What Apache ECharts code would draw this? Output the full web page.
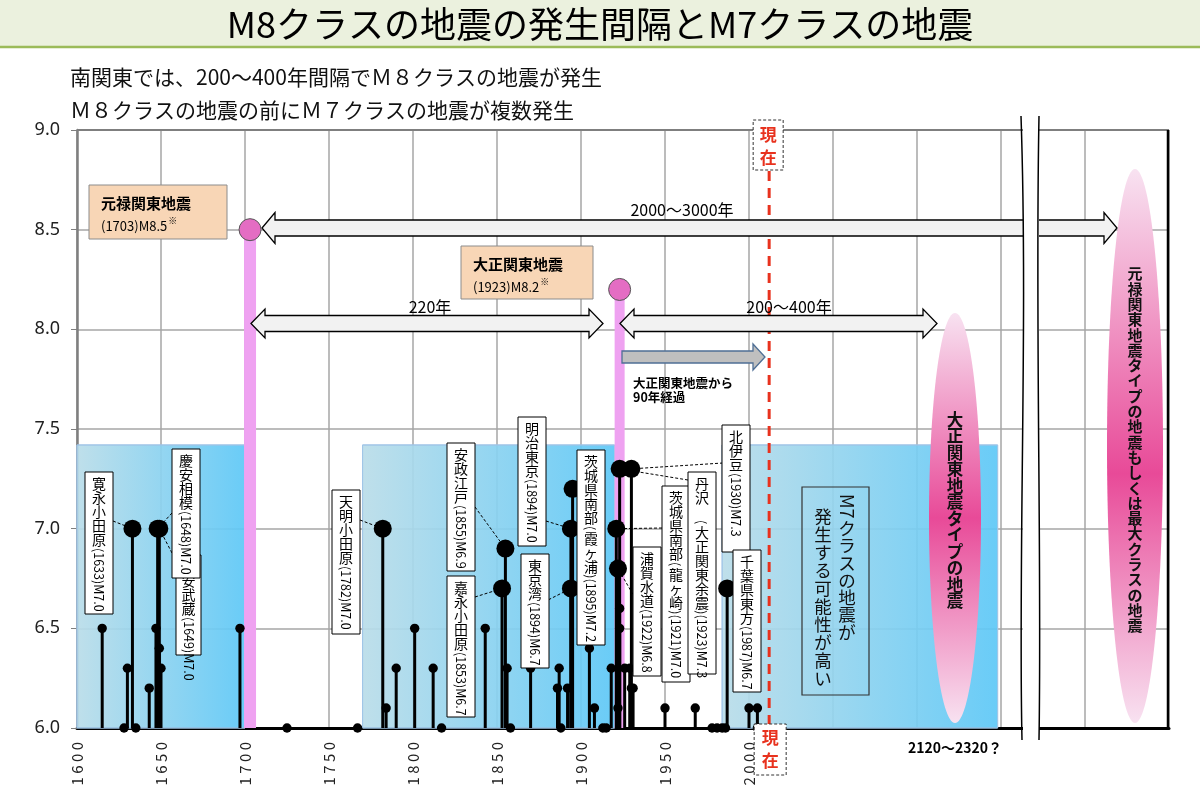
<!DOCTYPE html>
<html lang="ja">
<head>
<meta charset="utf-8">
<title>M8クラスの地震の発生間隔とM7クラスの地震</title>
<script src="https://cdn.jsdelivr.net/npm/echarts@6.0.0/dist/echarts.min.js"></script>
<style>
  html, body { margin: 0; padding: 0; background: #fff; }
  #main { width: 1200px; height: 789px; }
</style>
</head>
<body>
<div id="main"></div>
<script>
  var FONT = '"Noto Sans CJK JP", "Noto Sans", sans-serif';

  // 軸
  var yearMin = 1600, yearMax = 2250, yearStep = 50, yearLabelMax = 2000;
  var magMin = 6.0, magMax = 9.0, magStep = 0.5;

  // M6〜M7クラスの地震（年・マグニチュード）
  var quakeYears = [1615, 1628, 1630, 1633, 1635, 1643, 1647, 1648, 1649, 1649, 1650, 1697,
    1725, 1767, 1782, 1784, 1790, 1801, 1812, 1817,
    1843, 1853, 1855, 1856, 1858, 1870, 1886, 1887, 1888, 1892, 1894, 1894, 1895, 1905, 1908, 1913, 1915, 1918,
    1921, 1922, 1922, 1923, 1923, 1923, 1926, 1929, 1930, 1931, 1930,
    1950, 1968, 1978, 1981, 1984, 1986, 1987, 2000, 2005, 2005];
  var quakeMags = [6.5, 6.0, 6.3, 7.0, 6.0, 6.2, 6.5, 7.0, 7.0, 6.4, 6.3, 6.5,
    6.0, 6.0, 7.0, 6.1, 6.3, 6.5, 6.3, 6.0,
    6.5, 6.7, 6.9, 6.3, 6.0, 6.3, 6.2, 6.3, 6.0, 6.2, 7.0, 6.7, 7.2, 6.4, 6.1, 6.0, 6.0, 6.3,
    7.0, 6.8, 6.1, 7.3, 6.6, 6.5, 6.3, 6.3, 6.2, 6.2, 7.3,
    6.1, 6.1, 6.0, 6.0, 6.0, 6.0, 6.7, 6.1, 6.1, 6.0];

  // M8クラスの地震
  var m8Years = [1703, 1923];
  var m8Mags = [8.5, 8.2];
  var m8Names = ['元禄関東地震', '大正関東地震'];

  // 名前付きの地震
  var labelNames = ['寛永小田原', '慶安武蔵', '慶安相模', '天明小田原', '安政江戸', '嘉永小田原', '明治東京', '東京湾',
    '茨城県南部(霞ヶ浦)', '浦賀水道', '茨城県南部(龍ヶ崎)', '丹沢　(大正関東余震)', '北伊豆', '千葉県東方'];
  var labelYears = [1633, 1649, 1648, 1782, 1855, 1853, 1894, 1894, 1895, 1922, 1921, 1923, 1930, 1987];
  var labelMags = [7.0, 7.0, 7.0, 7.0, 6.9, 6.7, 7.0, 6.7, 7.2, 6.8, 7.0, 7.3, 7.3, 6.7];

  // M7クラスが続く期間（水色）
  var periodStart = [1600, 1770, 1984];
  var periodEnd = [1700, 1920, 2148];
  var periodTopMag = 7.42;

  var nowYear = 2012;

  // ラベル枠の配置 [x, y, w, h]（px）と引き出し線の始点
  var labelBoxes = [
    [85, 472, 28, 142], [176, 555, 25, 100], [172, 449, 28, 129], [332, 490, 28, 144],
    [447, 443, 28, 128], [447, 576, 28, 141], [518, 417, 28, 129], [521, 554, 28, 114],
    [577, 450, 28, 195], [633, 547, 28, 129], [662, 486, 28, 196], [688, 472, 28, 202],
    [722, 425, 28, 127], [733, 550, 28, 142]
  ];
  var leaderFrom = [[113, 521], [172, 553], [172, 513], [360, 520], [475, 507], [475, 597], [546, 521],
    [544, 602], [577, 481], [638, 603], [662, 528], [688, 480], [723, 463], null];

  var chart = echarts.init(document.getElementById('main'));

  chart.setOption({
    animation: false,
    grid: { left: 77, right: 31, top: 130, bottom: 61, outerBoundsMode: 'none' },
    xAxis: {
      type: 'value', min: yearMin, max: yearMax, interval: yearStep,
      axisLine: { lineStyle: { color: '#000', width: 3 } },
      axisTick: { show: false },
      axisLabel: {
        rotate: 90, margin: 14, fontSize: 15, color: '#222', fontFamily: FONT,
        formatter: function (v) { return v <= yearLabelMax ? String(v).split('').join(' ') : ''; }
      },
      splitLine: { lineStyle: { color: '#a6a6a6', width: 1.5 } }
    },
    yAxis: {
      type: 'value', min: magMin, max: magMax, interval: magStep,
      axisLine: { show: true, lineStyle: { color: '#7f7f7f', width: 2.5 } },
      axisTick: { show: true, length: 6, lineStyle: { color: '#7f7f7f' } },
      axisLabel: { margin: 17, fontSize: 18, color: '#222', fontFamily: 'Noto Sans', formatter: function (v) { return v.toFixed(1); } },
      splitLine: { lineStyle: { color: '#a6a6a6', width: 1.5 } }
    },
    series: [
      {
        name: 'period', type: 'custom', z: 1, silent: true,
        data: periodStart.map(function (s, i) { return [s, periodEnd[i], periodTopMag]; }),
        renderItem: function (params, api) {
          var p0 = api.coord([api.value(0), api.value(2)]);
          var p1 = api.coord([api.value(1), magMin]);
          return {
            type: 'rect',
            shape: { x: p0[0], y: p0[1], width: p1[0] - p0[0], height: p1[1] - p0[1] },
            style: {
              fill: new echarts.graphic.LinearGradient(0, 0, 1, 0, [
                { offset: 0, color: '#badde9' }, { offset: 1, color: '#5dc8f7' }
              ]),
              stroke: '#9fc4e6', lineWidth: 1, opacity: 0.92
            }
          };
        }
      },
      {
        name: 'M8', type: 'custom', z: 3, silent: true,
        data: m8Years.map(function (y, i) { return [y, m8Mags[i]]; }),
        renderItem: function (params, api) {
          var top = api.coord([api.value(0), api.value(1)]);
          var base = api.coord([api.value(0), magMin]);
          var w = params.dataIndex === 0 ? 12 : 10;
          return {
            type: 'group',
            children: [
              { type: 'rect', shape: { x: top[0] - w / 2, y: top[1], width: w, height: base[1] - top[1] }, style: { fill: '#efa2f1' } },
              { type: 'circle', shape: { cx: top[0], cy: top[1], r: 11 }, style: { fill: '#e46dc3', stroke: '#555', lineWidth: 1 } }
            ]
          };
        }
      },
      {
        name: 'M7', type: 'custom', z: 4, silent: true,
        data: quakeYears.map(function (y, i) { return [y, quakeMags[i]]; }),
        renderItem: function (params, api) {
          var m = api.value(1);
          var top = api.coord([api.value(0), m]);
          var base = api.coord([api.value(0), magMin]);
          var r = m >= 6.65 ? 9 : 4.7;
          var children = [];
          if (m > magMin) {
            children.push({ type: 'line', shape: { x1: base[0], y1: base[1], x2: top[0], y2: top[1] }, style: { stroke: '#000', lineWidth: 3 } });
          }
          children.push({ type: 'circle', shape: { cx: top[0], cy: top[1], r: r }, style: { fill: '#000' } });
          return { type: 'group', children: children };
        }
      }
    ]
  });

  function px(yr, m) { return chart.convertToPixel({ gridIndex: 0 }, [yr, m]); }

  var measureCtx = document.createElement('canvas').getContext('2d');
  function textWidth(s, font) { measureCtx.font = font; return measureCtx.measureText(s).width; }

  function txt(x, y, s, font, fill, align, z) {
    return {
      type: 'text', x: x, y: y, z: z || 12, silent: true,
      style: { text: s, font: font, fill: fill || '#000', textAlign: align || 'left', align: align || 'left', textVerticalAlign: 'middle', verticalAlign: 'middle' }
    };
  }

  // 縦書き：漢字・かなは正立、英数字は右90度回転
  function isSideways(ch) { return /[\x20-\x7e]/.test(ch); }
  function vtext(cx, y0, s, o) {
    var out = [];
    var y = y0, i = 0;
    var cjkFont = (o.weight || 'normal') + ' ' + o.size + 'px ' + FONT;
    var latFont = (o.weight || 'normal') + ' ' + o.latin + 'px ' + FONT;
    while (i < s.length) {
      if (isSideways(s[i])) {
        var j = i;
        while (j < s.length && isSideways(s[j])) j++;
        var run = s.slice(i, j);
        var e = txt(cx, y + 1, run, latFont, o.color, 'left', o.z);
        e.rotation = -Math.PI / 2;
        out.push(e);
        y += textWidth(run, latFont) + 2;
        i = j;
      } else {
        out.push(txt(cx, y + o.step / 2, s[i], cjkFont, o.color, 'center', o.z));
        y += o.step;
        i++;
      }
    }
    return out;
  }

  function arrow(x1, x2, cy, sh, hh, hl, left, right, fill, stroke) {
    var pts = [];
    if (left) pts.push([x1, cy], [x1 + hl, cy - hh / 2], [x1 + hl, cy - sh / 2]); else pts.push([x1, cy - sh / 2]);
    if (right) pts.push([x2 - hl, cy - sh / 2], [x2 - hl, cy - hh / 2], [x2, cy], [x2 - hl, cy + hh / 2], [x2 - hl, cy + sh / 2]);
    else pts.push([x2, cy - sh / 2], [x2, cy + sh / 2]);
    if (left) pts.push([x1 + hl, cy + sh / 2], [x1 + hl, cy + hh / 2]); else pts.push([x1, cy + sh / 2]);
    return { type: 'polygon', z: 6, silent: true, shape: { points: pts }, style: { fill: fill, stroke: stroke, lineWidth: 1.3 } };
  }

  var g = [];

  // タイトル帯
  g.push({ type: 'rect', z: 10, shape: { x: 0, y: 0, width: 1200, height: 46 }, style: { fill: '#ebf1de' } });
  g.push({ type: 'line', z: 10, shape: { x1: 0, y1: 47, x2: 1200, y2: 47 }, style: { stroke: '#9bbb59', lineWidth: 2.5 } });
  g.push(txt(600, 24, 'M8クラスの地震の発生間隔とM7クラスの地震', '36px ' + FONT, '#000', 'center'));
  g.push(txt(70, 77, '南関東では、200～400年間隔でＭ８クラスの地震が発生', '21px ' + FONT, '#111'));
  g.push(txt(70, 110, 'Ｍ８クラスの地震の前にＭ７クラスの地震が複数発生', '21px ' + FONT, '#111'));

  // 枠線（上・右）
  var tl = px(yearMin, magMax), br = px(yearMax, magMin);
  g.push({ type: 'line', z: 5, shape: { x1: tl[0], y1: tl[1], x2: br[0], y2: tl[1] }, style: { stroke: '#7f7f7f', lineWidth: 2 } });
  g.push({ type: 'line', z: 5, shape: { x1: br[0] - 1, y1: tl[1], x2: br[0] - 1, y2: br[1] }, style: { stroke: '#000', lineWidth: 2.5 } });

  // 現在（赤破線）
  var nowX = px(nowYear, magMin)[0];
  g.push({ type: 'line', z: 5, shape: { x1: nowX, y1: 171, x2: nowX, y2: br[1] }, style: { stroke: '#e8321e', lineWidth: 3, lineDash: [10, 7] } });
  [[nowX - 16, 120, 30, 50, 135, 158], [nowX - 15, 724, 32, 51, 738, 761]].forEach(function (b) {
    g.push({ type: 'rect', z: 9, shape: { x: b[0], y: b[1], width: b[2], height: b[3] }, style: { fill: '#fff', stroke: '#333', lineWidth: 1, lineDash: [3, 2] } });
    g.push(txt(b[0] + b[2] / 2, b[4], '現', 'bold 17px ' + FONT, '#e8321e', 'center'));
    g.push(txt(b[0] + b[2] / 2, b[5], '在', 'bold 17px ' + FONT, '#e8321e', 'center'));
  });

  // 楕円（今後の地震）
  function pinkGrad(mid) {
    return new echarts.graphic.LinearGradient(0, 0, 0, 1, [
      { offset: 0, color: '#f8e2f1' }, { offset: mid, color: '#e84a98' }, { offset: 1, color: '#f8e2f1' }
    ]);
  }
  g.push({ type: 'ellipse', z: 5, silent: true, shape: { cx: 955, cy: 518, rx: 26, ry: 205 }, style: { fill: pinkGrad(0.5) } });
  g.push({ type: 'ellipse', z: 5, silent: true, shape: { cx: 1135, cy: 446, rx: 28, ry: 277 }, style: { fill: pinkGrad(0.55) } });
  g = g.concat(vtext(955, 411, '大正関東地震タイプの地震', { size: 16.5, step: 16.5, latin: 15, weight: 'bold', color: '#111', z: 7 }));
  g = g.concat(vtext(1135, 266, '元禄関東地震タイプの地震もしくは最大クラスの地震', { size: 15, step: 15.3, latin: 14, weight: 'bold', color: '#111', z: 7 }));

  // 矢印
  g.push(arrow(262, 1117, 228, 16, 31, 13, true, true, '#f2f2f2', '#000'));
  g.push(arrow(251, 603, 323.5, 16, 29, 14, true, true, '#f2f2f2', '#000'));
  g.push(arrow(620, 937, 323.5, 16, 29, 14, true, true, '#f2f2f2', '#000'));
  g.push(arrow(622, 765, 357, 12, 26, 12, false, true, '#bfbfbf', '#4f6f95'));
  g.push(txt(682, 210, '2000～3000年', '16px ' + FONT, '#000', 'center'));
  g.push(txt(430, 307, '220年', '16px ' + FONT, '#000', 'center'));
  g.push(txt(789, 307, '200～400年', '16px ' + FONT, '#000', 'center'));
  g.push(txt(633, 383, '大正関東地震から', 'bold 12.5px ' + FONT, '#000'));
  g.push(txt(633, 397, '90年経過', 'bold 12.5px ' + FONT, '#000'));
  g.push(txt(955, 748, '2120～2320？', 'bold 14px ' + FONT, '#000', 'center'));

  // M8 ラベル
  [[89, 185, 138, 54], [461, 246, 132, 53]].forEach(function (b, i) {
    g.push({ type: 'rect', z: 8, shape: { x: b[0], y: b[1], width: b[2], height: b[3] }, style: { fill: '#f8d6b6', stroke: '#8c8c8c', lineWidth: 1 } });
    g.push(txt(b[0] + 12, b[1] + 18, m8Names[i], 'bold 15px ' + FONT, '#000'));
    var sub = '(' + m8Years[i] + ')M' + m8Mags[i].toFixed(1);
    var f = '13px ' + FONT;
    g.push(txt(b[0] + 12, b[1] + 41, sub, f, '#000'));
    g.push(txt(b[0] + 13 + textWidth(sub, f), b[1] + 36, '※', '9px ' + FONT, '#000'));
  });

  // M7発生可能性の枠
  g.push({ type: 'rect', z: 8, shape: { x: 802, y: 487, width: 67, height: 208 }, style: { fill: 'none', stroke: '#333', lineWidth: 1.2 } });
  g = g.concat(vtext(847, 493, 'M7クラスの地震が', { size: 17.5, step: 17.3, latin: 18, color: '#111', z: 9 }));
  g = g.concat(vtext(823, 507, '発生する可能性が高い', { size: 17.5, step: 18, latin: 18, color: '#111', z: 9 }));

  // 地震名ラベルと引き出し線
  labelNames.forEach(function (name, i) {
    var dot = px(labelYears[i], labelMags[i]);
    var from = leaderFrom[i];
    if (from) {
      g.push({ type: 'line', z: 7, silent: true, shape: { x1: from[0], y1: from[1], x2: dot[0], y2: dot[1] }, style: { stroke: '#000', lineWidth: 1, lineDash: [3, 2] } });
    }
    var b = labelBoxes[i];
    g.push({ type: 'rect', z: 8, shape: { x: b[0], y: b[1], width: b[2], height: b[3] }, style: { fill: '#fff', stroke: '#000', lineWidth: 1 } });
    var s = name + '(' + labelYears[i] + ')M' + labelMags[i].toFixed(1);
    g = g.concat(vtext(b[0] + b[2] / 2, b[1] + 5, s, { size: 14, step: 14, latin: 12.5, color: '#000', z: 8 }));
  });

  // 軸の省略（波線）
  g.push({ type: 'rect', z: 20, shape: { x: 1023, y: 116, width: 16, height: 624 }, style: { fill: '#fff' } });
  g.push({ type: 'bezierCurve', z: 21, shape: { x1: 1021, y1: 116, cpx1: 1028, cpy1: 320, cpx2: 1018, cpy2: 560, x2: 1022, y2: 740 }, style: { stroke: '#000', lineWidth: 1.5, fill: 'none' } });
  g.push({ type: 'bezierCurve', z: 21, shape: { x1: 1039, y1: 116, cpx1: 1035, cpy1: 320, cpx2: 1042, cpy2: 560, x2: 1039, y2: 740 }, style: { stroke: '#000', lineWidth: 1.5, fill: 'none' } });

  chart.setOption({ graphic: { elements: g } });
</script>
</body>
</html>
